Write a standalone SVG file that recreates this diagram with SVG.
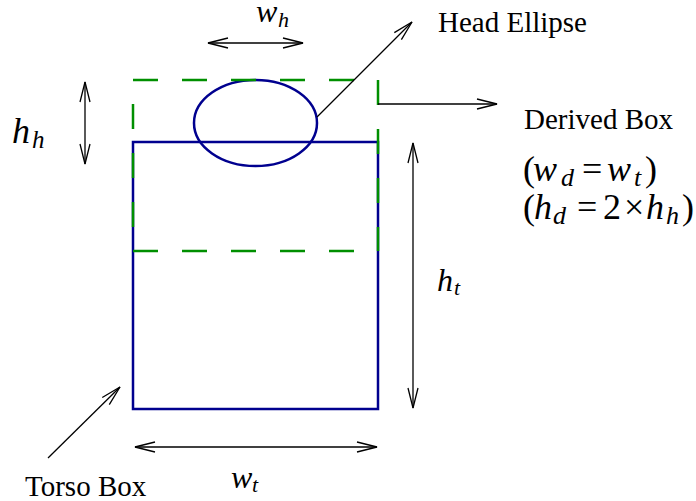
<svg xmlns="http://www.w3.org/2000/svg" width="696" height="501" viewBox="0 0 696 501">
<style>
.blue{fill:none;stroke:#00008f;stroke-width:2.5}
.green{fill:none;stroke:#008f00;stroke-width:2.5;stroke-dasharray:25 24}
.arr{fill:none;stroke:#000;stroke-width:1.3}
text{font-family:'Liberation Serif','Times New Roman','DejaVu Serif',serif;fill:#000}
.lbl{font-size:29px}
.m{font-size:32px}
.big{font-size:36px}
.i{font-style:italic}
.s{font-size:22px;font-style:italic}
.bs{font-size:26px;font-style:italic}
</style>
<defs>
<marker id="ah" markerUnits="userSpaceOnUse" markerWidth="24" markerHeight="14" viewBox="-22 -7 24 14" refX="0" refY="0" orient="auto-start-reverse">
<path d="M-20,-5 L0,0 L-20,5" fill="none" stroke="#000" stroke-width="1.3"/>
</marker>
</defs>
<g id="torso-box">
<rect class="blue" x="133" y="142" width="245" height="267"/>
</g>
<g id="head-ellipse">
<ellipse class="blue" cx="255.5" cy="123" rx="61.5" ry="43"/>
</g>
<g id="derived-box">
<line class="green" x1="133" y1="80" x2="378" y2="80"/>
<line class="green" x1="133" y1="251" x2="378" y2="251"/>
<line class="green" x1="378" y1="80" x2="378" y2="251"/>
<line class="green" x1="133" y1="80" x2="133" y2="251" style="stroke-dashoffset:25"/>
</g>
<g id="connectors">
<line class="arr" x1="208" y1="43" x2="303" y2="43" marker-start="url(#ah)" marker-end="url(#ah)"/>
<line class="arr" x1="85" y1="82" x2="85" y2="164" marker-start="url(#ah)" marker-end="url(#ah)"/>
<line class="arr" x1="317" y1="117" x2="412" y2="22" marker-end="url(#ah)"/>
<line class="arr" x1="378" y1="104" x2="497" y2="104" marker-end="url(#ah)"/>
<line class="arr" x1="413" y1="143" x2="413" y2="408" marker-start="url(#ah)" marker-end="url(#ah)"/>
<line class="arr" x1="135" y1="447" x2="377" y2="447" marker-start="url(#ah)" marker-end="url(#ah)"/>
<line class="arr" x1="48" y1="458" x2="120" y2="387" marker-end="url(#ah)"/>
</g>
<g id="labels">
<text class="lbl" x="438" y="32">Head Ellipse</text>
<text class="lbl" x="524" y="129">Derived Box</text>
<text class="lbl" x="25" y="496">Torso Box</text>
<text class="m"><tspan class="i" x="256" y="22">w</tspan><tspan class="s" x="278" y="27">h</tspan></text>
<text class="m" style="font-size:36px"><tspan class="i" x="12" y="143">h</tspan><tspan class="s" style="font-size:25px" x="32" y="148">h</tspan></text>
<text class="m"><tspan class="i" x="437" y="291">h</tspan><tspan class="s" x="454" y="295">t</tspan></text>
<text class="m"><tspan class="i" x="231" y="488">w</tspan><tspan class="s" x="252" y="492">t</tspan></text>
<text class="big"><tspan x="523" y="181">(</tspan><tspan class="i" x="533" y="181">w</tspan><tspan class="bs" x="561" y="186">d</tspan><tspan x="582" y="181">=</tspan><tspan class="i" x="607" y="181">w</tspan><tspan class="bs" x="634" y="186">t</tspan><tspan x="645" y="181">)</tspan></text>
<text class="big"><tspan x="523" y="219">(</tspan><tspan class="i" x="534" y="219">h</tspan><tspan class="bs" x="553" y="224">d</tspan><tspan x="577" y="219">=</tspan><tspan x="603" y="219">2</tspan><tspan x="624" y="219">×</tspan><tspan class="i" x="646" y="219">h</tspan><tspan class="bs" x="666" y="224">h</tspan><tspan x="682" y="219">)</tspan></text>
</g>
</svg>
